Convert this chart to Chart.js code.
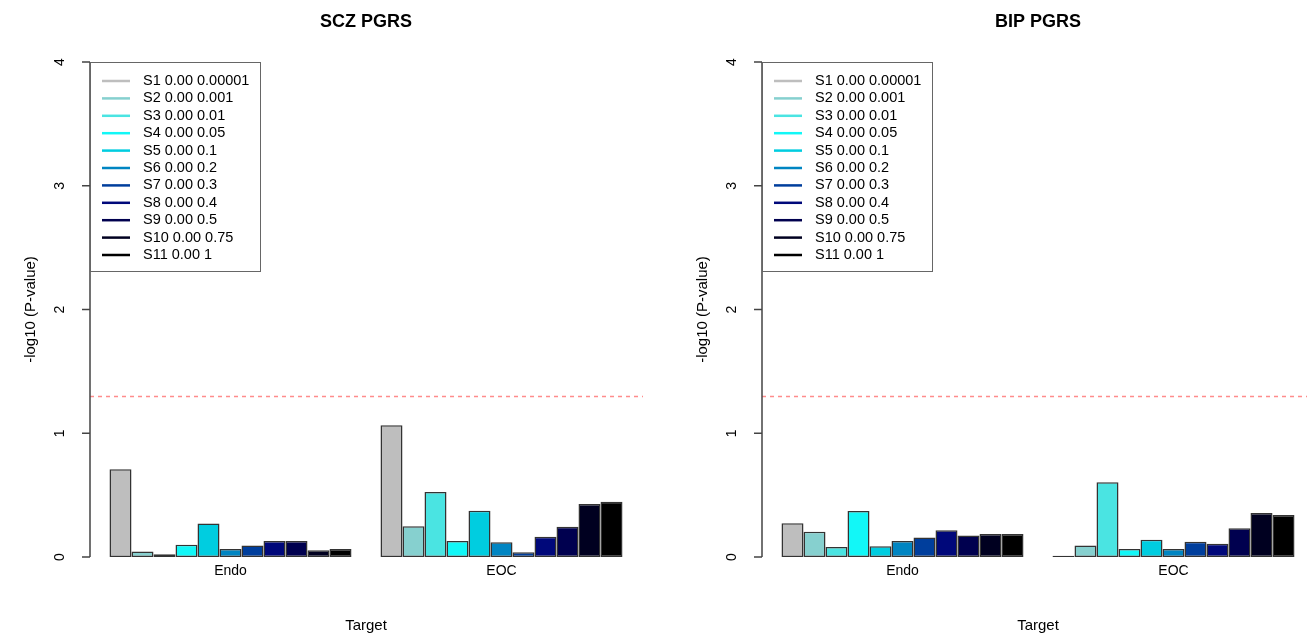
<!DOCTYPE html>
<html>
<head>
<meta charset="utf-8">
<title>PGRS barplots</title>
<script src="https://cdn.jsdelivr.net/npm/chart.js@4.4.1/dist/chart.umd.min.js"></script>
<style>
  html, body { margin: 0; padding: 0; background: #fff; overflow: hidden; }
  #wrap { position: relative; width: 1307px; height: 635px; overflow: hidden; }
  canvas { position: absolute; top: 0; }
  #sczChart { left: 0; }
  #bipChart { left: 672px; }
</style>
</head>
<body>
<div id="wrap">
  <canvas id="sczChart" width="672" height="635"></canvas>
  <canvas id="bipChart" width="672" height="635"></canvas>
</div>
<script>
// Categories (targets) and series (PGRS thresholds)
const categories = ["Endo", "EOC"];
const seriesLabels = [
  "S1 0.00 0.00001", "S2 0.00 0.001", "S3 0.00 0.01", "S4 0.00 0.05",
  "S5 0.00 0.1", "S6 0.00 0.2", "S7 0.00 0.3", "S8 0.00 0.4",
  "S9 0.00 0.5", "S10 0.00 0.75", "S11 0.00 1"
];
const seriesColors = [
  "#bebebe", "#86d0cf", "#4ae4e2", "#12f7f7", "#00cde0", "#0085c2",
  "#003e9c", "#00087a", "#00004f", "#000020", "#000000"
];

// -log10(P) for each series, per target
const sczEndo = [0.71, 0.044, 0.022, 0.10, 0.27, 0.065, 0.092, 0.13, 0.13, 0.054, 0.065];
const sczEoc = [1.064, 0.248, 0.525, 0.13, 0.374, 0.119, 0.038, 0.164, 0.245, 0.428, 0.447];
const bipEndo = [0.272, 0.205, 0.081, 0.372, 0.086, 0.13, 0.157, 0.216, 0.173, 0.186, 0.186];
const bipEoc = [0.011, 0.092, 0.604, 0.065, 0.14, 0.065, 0.124, 0.108, 0.232, 0.356, 0.34];

const yTicks = [0, 1, 2, 3, 4];
const sigLevel = 1.3; // -log10(0.05)

const FONT = '"Liberation Sans", Arial, Helvetica, sans-serif';
Chart.defaults.font.family = FONT;
Chart.defaults.color = "#000";

// Title, R-style y axis, threshold line and legend box
const panelPlugin = {
  id: "panel",
  afterDatasetsDraw(chart, args, opts) {
    const { ctx, chartArea } = chart;
    const y = chart.scales.y;
    const axX = chartArea.left - 5;

    ctx.save();

    // threshold line
    ctx.strokeStyle = "#ff8c8c";
    ctx.lineWidth = 1.5;
    ctx.setLineDash([4, 4]);
    ctx.beginPath();
    const yy = Math.round(y.getPixelForValue(sigLevel)) + 0.5;
    ctx.moveTo(axX, yy);
    ctx.lineTo(chartArea.right + 6, yy);
    ctx.stroke();
    ctx.setLineDash([]);

    // y axis line + ticks + rotated labels
    ctx.strokeStyle = "#444";
    ctx.lineWidth = 1.5;
    ctx.beginPath();
    ctx.moveTo(axX, y.getPixelForValue(yTicks[0]));
    ctx.lineTo(axX, y.getPixelForValue(yTicks[yTicks.length - 1]));
    yTicks.forEach((t) => {
      const py = y.getPixelForValue(t);
      ctx.moveTo(axX - 8, py);
      ctx.lineTo(axX, py);
    });
    ctx.stroke();

    ctx.fillStyle = "#000";
    ctx.font = "14px " + FONT;
    ctx.textAlign = "center";
    ctx.textBaseline = "middle";
    yTicks.forEach((t) => {
      ctx.save();
      ctx.translate(axX - 30, y.getPixelForValue(t));
      ctx.rotate(-Math.PI / 2);
      ctx.fillText(String(t), 0, 0);
      ctx.restore();
    });

    // panel title
    ctx.font = "bold 18px " + FONT;
    ctx.fillText(opts.title, (chartArea.left + chartArea.right) / 2, 22);

    // legend box
    const boxTop = chartArea.top;
    ctx.fillStyle = "#fff";
    ctx.fillRect(axX, boxTop, 170, 209);
    ctx.strokeStyle = "#666";
    ctx.lineWidth = 1;
    ctx.strokeRect(axX + 0.5, boxTop + 0.5, 170, 209);

    ctx.font = "14.5px " + FONT;
    ctx.textAlign = "left";
    chart.data.datasets.forEach((ds, i) => {
      const ry = boxTop + 19 + i * 17.4;
      ctx.strokeStyle = ds.backgroundColor;
      ctx.lineWidth = 2.5;
      ctx.beginPath();
      ctx.moveTo(axX + 12, ry);
      ctx.lineTo(axX + 40, ry);
      ctx.stroke();
      ctx.fillStyle = "#000";
      ctx.fillText(ds.label, axX + 53, ry);
    });

    ctx.restore();
  },
};

function makePanel(canvasId, title, endoVals, eocVals) {
  const datasets = seriesLabels.map((label, i) => ({
    label: label,
    data: [endoVals[i], eocVals[i]],
    backgroundColor: seriesColors[i],
    borderColor: "#333",
    borderWidth: 1.5,
    borderSkipped: false,
    barPercentage: 1,
    categoryPercentage: 0.893,
  }));

  return new Chart(document.getElementById(canvasId).getContext("2d"), {
    type: "bar",
    data: { labels: categories, datasets: datasets },
    options: {
      responsive: false,
      animation: false,
      devicePixelRatio: 1,
      layout: { padding: { top: 62, left: 0, right: 35, bottom: 0 } },
      plugins: {
        legend: { display: false },
        title: { display: false },
        tooltip: { enabled: false },
        panel: { title: title },
      },
      scales: {
        x: {
          type: "category",
          grid: { display: false, drawTicks: false },
          border: { display: false },
          ticks: { font: { size: 14 }, color: "#000", padding: 6 },
          title: {
            display: true,
            text: "Target",
            font: { size: 15 },
            color: "#000",
            padding: { top: 0, bottom: 0 },
          },
          afterFit: (scale) => { scale.height = 78; },
        },
        y: {
          min: 0,
          max: 4,
          ticks: { display: false, stepSize: 1 },
          grid: { display: false },
          border: { display: false },
          title: {
            display: true,
            text: "-log10 (P-value)",
            font: { size: 15 },
            color: "#000",
            padding: { top: 22, bottom: 0 },
          },
          afterFit: (scale) => { scale.width = 95; },
        },
      },
    },
    plugins: [panelPlugin],
  });
}

makePanel("sczChart", "SCZ PGRS", sczEndo, sczEoc);
makePanel("bipChart", "BIP PGRS", bipEndo, bipEoc);
</script>
</body>
</html>
